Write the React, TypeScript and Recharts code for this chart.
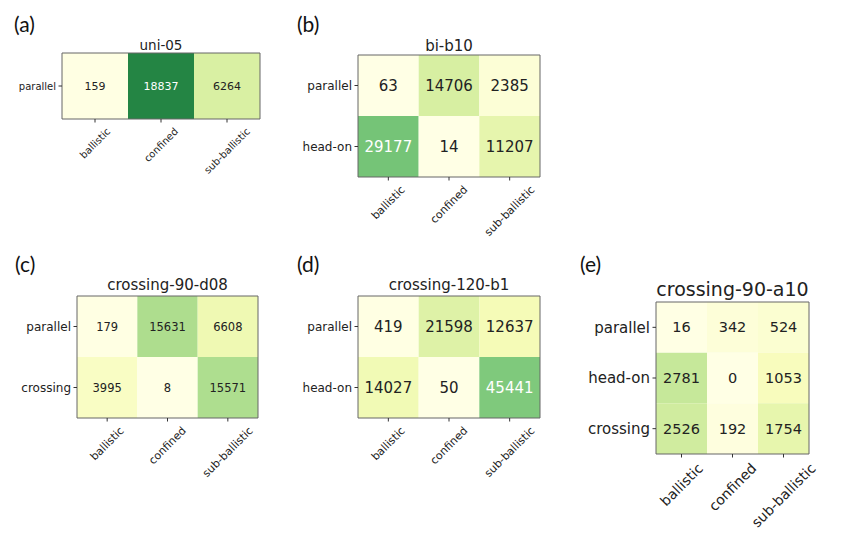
import React from 'react';
import { ScatterChart, Scatter, XAxis, YAxis, ReferenceArea } from 'recharts';

// ---- data ----
const columnLabels = ['ballistic', 'confined', 'sub-ballistic'];

const uni05Rows = ['parallel'];
const uni05Values = [[159, 18837, 6264]];

const biB10Rows = ['parallel', 'head-on'];
const biB10Values = [
  [63, 14706, 2385],
  [29177, 14, 11207],
];

const crossing90d08Rows = ['parallel', 'crossing'];
const crossing90d08Values = [
  [179, 15631, 6608],
  [3995, 8, 15571],
];

const crossing120b1Rows = ['parallel', 'head-on'];
const crossing120b1Values = [
  [419, 21598, 12637],
  [14027, 50, 45441],
];

const crossing90a10Rows = ['parallel', 'head-on', 'crossing'];
const crossing90a10Values = [
  [16, 342, 524],
  [2781, 0, 1053],
  [2526, 192, 1754],
];

// ---- colormap (YlGn) ----
const YLGN = ['#ffffe5', '#f7fcb9', '#d9f0a3', '#addd8e', '#78c679', '#41ab5d', '#238443', '#006837', '#004529'];
function hexToRgb(h: string) {
  return [parseInt(h.slice(1, 3), 16), parseInt(h.slice(3, 5), 16), parseInt(h.slice(5, 7), 16)];
}
function ylgn(t: number) {
  const c = Math.max(0, Math.min(1, t)) * (YLGN.length - 1);
  const i = Math.min(Math.floor(c), YLGN.length - 2);
  const f = c - i;
  const a = hexToRgb(YLGN[i]);
  const b = hexToRgb(YLGN[i + 1]);
  const m = a.map((v, k) => Math.round(v + (b[k] - v) * f));
  return `rgb(${m[0]},${m[1]},${m[2]})`;
}

let measureCtx: CanvasRenderingContext2D | null = null;
function measure(text: string, fs: number) {
  if (!measureCtx) measureCtx = document.createElement('canvas').getContext('2d');
  if (!measureCtx) return text.length * fs * 0.6;
  measureCtx.font = `${fs}px "DejaVu Sans"`;
  return measureCtx.measureText(text).width;
}

const FONT = '"DejaVu Sans", sans-serif';
const TXT = '#222';

function RotTick(props: any) {
  const { x, y, payload, fs } = props;
  const label = columnLabels[payload.value] ?? '';
  const L = measure(label, fs);
  const h = fs * 0.75;
  const half = ((L + h) * 0.7071) / 2;
  const cx = x;
  const cy = y + 4.5 + half;
  return (
    <text
      x={cx}
      y={cy}
      textAnchor="middle"
      dominantBaseline="central"
      fontSize={fs}
      fontFamily={FONT}
      fill={TXT}
      transform={`rotate(-45, ${cx}, ${cy})`}
    >
      {label}
    </text>
  );
}

type PanelProps = {
  letter: string;
  letterX: number;
  letterY: number;
  title: string;
  titleBaseline: number;
  titleFs: number;
  rows: string[];
  values: number[][];
  box: { x: number; y: number; w: number; h: number };
  numFs: number;
  rowFs: number;
  tickFs: number;
};

const YW = 90;
const MT = 10;
const MR = 10;
const XH = 80;

function Panel(p: PanelProps) {
  const total = p.values.flat().reduce((s, v) => s + v, 0);
  const cells = p.values.flatMap((row, r) =>
    row.map((v, c) => ({ x: c, y: r, value: v, t: v / total }))
  );
  const nRows = p.rows.length;
  const width = YW + p.box.w + MR;
  const height = MT + p.box.h + XH;
  return (
    <>
      <div
        style={{
          position: 'absolute',
          left: p.letterX,
          top: p.letterY - 11,
          fontFamily: 'Lato, "Open Sans", sans-serif',
          fontSize: 21,
          lineHeight: '22px',
          color: '#111',
          whiteSpace: 'nowrap',
        }}
      >
        {p.letter}
      </div>
      <div
        style={{
          position: 'absolute',
          left: p.box.x - 40,
          width: p.box.w + 80,
          top: p.titleBaseline - 0.846 * p.titleFs,
          fontFamily: FONT,
          fontSize: p.titleFs,
          lineHeight: `${p.titleFs}px`,
          textAlign: 'center',
          color: TXT,
          whiteSpace: 'nowrap',
        }}
      >
        {p.title}
      </div>
      <div style={{ position: 'absolute', left: p.box.x - YW, top: p.box.y - MT }}>
        <ScatterChart
          width={width}
          height={height}
          margin={{ top: MT, right: MR, left: 0, bottom: 0 }}
          style={{ fontFamily: FONT }}
        >
          <XAxis
            type="number"
            dataKey="x"
            domain={[-0.5, 2.5]}
            ticks={[0, 1, 2]}
            interval={0}
            allowDataOverflow
            axisLine={false}
            tickLine={{ stroke: '#333' }}
            tickSize={3.5}
            tickMargin={0}
            height={XH}
            tick={(tp: any) => <RotTick {...tp} fs={p.tickFs} />}
          />
          <YAxis
            type="number"
            dataKey="y"
            domain={[-0.5, nRows - 0.5]}
            ticks={p.rows.map((_, i) => i)}
            interval={0}
            reversed
            allowDataOverflow
            axisLine={false}
            tickLine={{ stroke: '#333' }}
            tickSize={3.5}
            tickMargin={2.5}
            width={YW}
            tickFormatter={(v: number) => p.rows[v] ?? ''}
            tick={{ fontSize: p.rowFs, fill: TXT, fontFamily: FONT }}
          />
          {cells.map((c) => (
            <ReferenceArea
              key={`${c.x}-${c.y}`}
              x1={c.x - 0.5}
              x2={c.x + 0.5}
              y1={c.y - 0.5}
              y2={c.y + 0.5}
              fill={ylgn(c.t)}
              fillOpacity={1}
              stroke="none"
              ifOverflow="visible"
            />
          ))}
          <ReferenceArea
            x1={-0.5}
            x2={2.5}
            y1={-0.5}
            y2={nRows - 0.5}
            fill="none"
            stroke="#666"
            strokeWidth={1}
            ifOverflow="visible"
          />
          <Scatter
            data={cells}
            isAnimationActive={false}
            shape={(sp: any) => (
              <text
                x={sp.cx}
                y={sp.cy}
                textAnchor="middle"
                dominantBaseline="central"
                fontSize={p.numFs}
                fontFamily={FONT}
                fill={sp.payload.t > 0.45 ? '#ffffff' : TXT}
              >
                {sp.payload.value}
              </text>
            )}
          />
        </ScatterChart>
      </div>
    </>
  );
}

export default function App() {
  return (
    <div
      style={{
        position: 'absolute',
        left: 0,
        top: 0,
        width: 844,
        height: 559,
        background: '#ffffff',
        overflow: 'hidden',
      }}
    >
      <Panel
        letter="(a)"
        letterX={14}
        letterY={24}
        title="uni-05"
        titleBaseline={50}
        titleFs={13.5}
        rows={uni05Rows}
        values={uni05Values}
        box={{ x: 62, y: 53, w: 198, h: 66 }}
        numFs={11}
        rowFs={10}
        tickFs={10}
      />
      <Panel
        letter="(b)"
        letterX={297}
        letterY={24}
        title="bi-b10"
        titleBaseline={52}
        titleFs={15}
        rows={biB10Rows}
        values={biB10Values}
        box={{ x: 358, y: 55, w: 182, h: 122 }}
        numFs={15}
        rowFs={12}
        tickFs={11}
      />
      <Panel
        letter="(c)"
        letterX={15}
        letterY={264}
        title="crossing-90-d08"
        titleBaseline={291}
        titleFs={15}
        rows={crossing90d08Rows}
        values={crossing90d08Values}
        box={{ x: 77, y: 296, w: 181, h: 122 }}
        numFs={11.5}
        rowFs={12}
        tickFs={11}
      />
      <Panel
        letter="(d)"
        letterX={297}
        letterY={264}
        title="crossing-120-b1"
        titleBaseline={291}
        titleFs={15}
        rows={crossing120b1Rows}
        values={crossing120b1Values}
        box={{ x: 358, y: 296, w: 182, h: 122 }}
        numFs={15}
        rowFs={12}
        tickFs={11}
      />
      <Panel
        letter="(e)"
        letterX={580}
        letterY={264}
        title="crossing-90-a10"
        titleBaseline={296}
        titleFs={19}
        rows={crossing90a10Rows}
        values={crossing90a10Values}
        box={{ x: 656, y: 302, w: 153, h: 152 }}
        numFs={14.5}
        rowFs={15}
        tickFs={14}
      />
    </div>
  );
}
